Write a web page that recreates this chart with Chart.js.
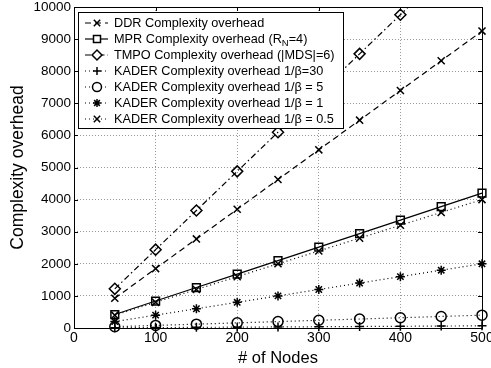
<!DOCTYPE html>
<html>
<head>
<meta charset="utf-8">
<script src="https://cdn.jsdelivr.net/npm/chart.js@4/dist/chart.umd.min.js"></script>
<style>
  html, body { margin: 0; padding: 0; background: #fff; overflow: hidden; }
  canvas { display: block; }
</style>
</head>
<body>
<canvas id="myChart" width="500" height="368"></canvas>
<script>
const nodes = [50, 100, 150, 200, 250, 300, 350, 400, 450, 500]
const ddr = [925, 1850, 2775, 3700, 4625, 5550, 6475, 7400, 8325, 9250]
const mpr = [420, 840, 1260, 1680, 2100, 2520, 2940, 3360, 3780, 4200]
const tmpo = [1220, 2440, 3660, 4880, 6100, 7320, 8540, 9760, 10980, 12200]
const kader30 = [7, 13, 20, 27, 33, 40, 47, 53, 60, 67]
const kader5 = [40, 80, 120, 160, 200, 240, 280, 320, 360, 400]
const kader1 = [200, 400, 600, 800, 1000, 1200, 1400, 1600, 1800, 2000]
const kader05 = [400, 800, 1200, 1600, 2000, 2400, 2800, 3200, 3600, 4000]
const xTicks = [0, 100, 200, 300, 400, 500]
const yTicks = [0, 1000, 2000, 3000, 4000, 5000, 6000, 7000, 8000, 9000, 10000]

const FONT = "'Liberation Sans', Arial, Helvetica, sans-serif"

const makeSet = function (label, data, style, radius, dash) {
  return {
    label,
    data: nodes.map((n, i) => ({ x: n, y: data[i] })),
    borderColor: '#000',
    backgroundColor: 'rgba(0,0,0,0)',
    pointBorderColor: '#000',
    pointBackgroundColor: 'rgba(0,0,0,0)',
    borderWidth: 1.2,
    pointBorderWidth: 1.5,
    pointStyle: style,
    pointRadius: radius,
    borderDash: dash,
    tension: 0,
    clip: { left: 10, right: 10, bottom: 10, top: 0 },
  }
}

const datasets = [
  makeSet('DDR Complexity overhead', ddr, 'crossRot', 5, [6, 4]),
  makeSet('MPR Complexity overhead (R', mpr, 'rect', 5.5, []),
  makeSet('TMPO Complexity overhead (|MDS|=6)', tmpo, 'rectRot', 5.5, [6, 3, 1.5, 3]),
  makeSet('KADER Complexity overhead 1/\u03b2=30', kader30, 'cross', 4.5, [1, 3]),
  makeSet('KADER Complexity overhead 1/\u03b2 = 5', kader5, 'circle', 5, [1, 3]),
  makeSet('KADER Complexity overhead 1/\u03b2 = 1', kader1, 'star', 4.5, [1, 3]),
  makeSet('KADER Complexity overhead 1/\u03b2 = 0.5', kader05, 'crossRot', 5, [1, 3]),
]

// box, inner ticks and the matlab style legend
const frame = {
  id: 'frame',
  afterDraw(chart) {
    const { ctx, chartArea: a, scales } = chart
    ctx.save()
    ctx.strokeStyle = '#000'
    ctx.lineWidth = 1
    ctx.setLineDash([])
    ctx.beginPath()
    xTicks.forEach((v) => {
      const px = Math.round(scales.x.getPixelForValue(v)) + 0.5
      ctx.moveTo(px, a.bottom); ctx.lineTo(px, a.bottom - 4)
      ctx.moveTo(px, a.top); ctx.lineTo(px, a.top + 4)
    })
    yTicks.forEach((v) => {
      const py = Math.round(scales.y.getPixelForValue(v)) + 0.5
      ctx.moveTo(a.left, py); ctx.lineTo(a.left + 4, py)
      ctx.moveTo(a.right, py); ctx.lineTo(a.right - 4, py)
    })
    ctx.stroke()
    ctx.strokeRect(Math.round(a.left) + 0.5, Math.round(a.top) + 0.5,
      Math.round(a.right - a.left), Math.round(a.bottom - a.top))

    // legend
    const lx = Math.round(a.left) + 4, ly = Math.round(a.top) + 5, lw = 265, lh = 116
    ctx.fillStyle = '#fff'
    ctx.fillRect(lx, ly, lw, lh)
    ctx.strokeRect(lx + 0.5, ly + 0.5, lw, lh)
    ctx.font = '12.7px ' + FONT
    ctx.textBaseline = 'middle'
    chart.data.datasets.forEach((ds, i) => {
      const y = ly + 11 + i * 16
      ctx.save()
      ctx.lineWidth = ds.borderWidth
      ctx.setLineDash(ds.borderDash)
      ctx.beginPath()
      ctx.moveTo(lx + 7, y); ctx.lineTo(lx + 30, y)
      ctx.stroke()
      ctx.restore()
      ctx.save()
      ctx.lineWidth = ds.pointBorderWidth
      ctx.fillStyle = '#fff'
      Chart.helpers.drawPoint(ctx, {
        pointStyle: ds.pointStyle, radius: ds.pointRadius * 0.9, borderWidth: ds.pointBorderWidth, rotation: 0,
      }, lx + 19, y)
      ctx.restore()
      ctx.fillStyle = '#000'
      ctx.fillText(ds.label, lx + 36, y)
      if (i === 1) {
        let x = lx + 36 + ctx.measureText(ds.label).width
        ctx.font = '9.5px ' + FONT
        ctx.fillText('N', x, y + 4)
        x += ctx.measureText('N').width
        ctx.font = '12.7px ' + FONT
        ctx.fillText('=4)', x, y)
      }
    })
    ctx.restore()
  },
}

new Chart(document.getElementById('myChart'), {
  type: 'line',
  data: { datasets },
  options: {
    responsive: false,
    animation: false,
    devicePixelRatio: 1,
    layout: { padding: { top: 0, right: 18, left: 0, bottom: 0 } },
    plugins: { legend: { display: false }, tooltip: { enabled: false } },
    scales: {
      x: {
        type: 'linear',
        min: 0,
        max: 500,
        afterBuildTicks: (scale) => { scale.ticks = xTicks.map((v) => ({ value: v })) },
        afterFit: (scale) => { scale.height = 40 },
        grid: { color: '#999', drawTicks: false },
        border: { display: false, dash: [1, 2] },
        ticks: { color: '#000', padding: 2, font: { family: FONT, size: 14 }, maxRotation: 0, callback: (v) => String(v) },
        title: { display: true, text: '# of Nodes', color: '#000', padding: 0, font: { family: FONT, size: 16.5 } },
      },
      y: {
        type: 'linear',
        min: 0,
        max: 10000,
        afterBuildTicks: (scale) => { scale.ticks = yTicks.map((v) => ({ value: v })) },
        afterFit: (scale) => {
          scale.width = 74
          scale.paddingTop = 7
        },
        grid: { color: '#999', drawTicks: false },
        border: { display: false, dash: [1, 2] },
        ticks: { color: '#000', padding: 3, font: { family: FONT, size: 13.5, lineHeight: 1 }, callback: (v) => String(v) },
        title: { display: true, text: 'Complexity overhead', color: '#000', padding: 8, font: { family: FONT, size: 17.5 } },
      },
    },
  },
  plugins: [frame],
})
</script>
</body>
</html>
